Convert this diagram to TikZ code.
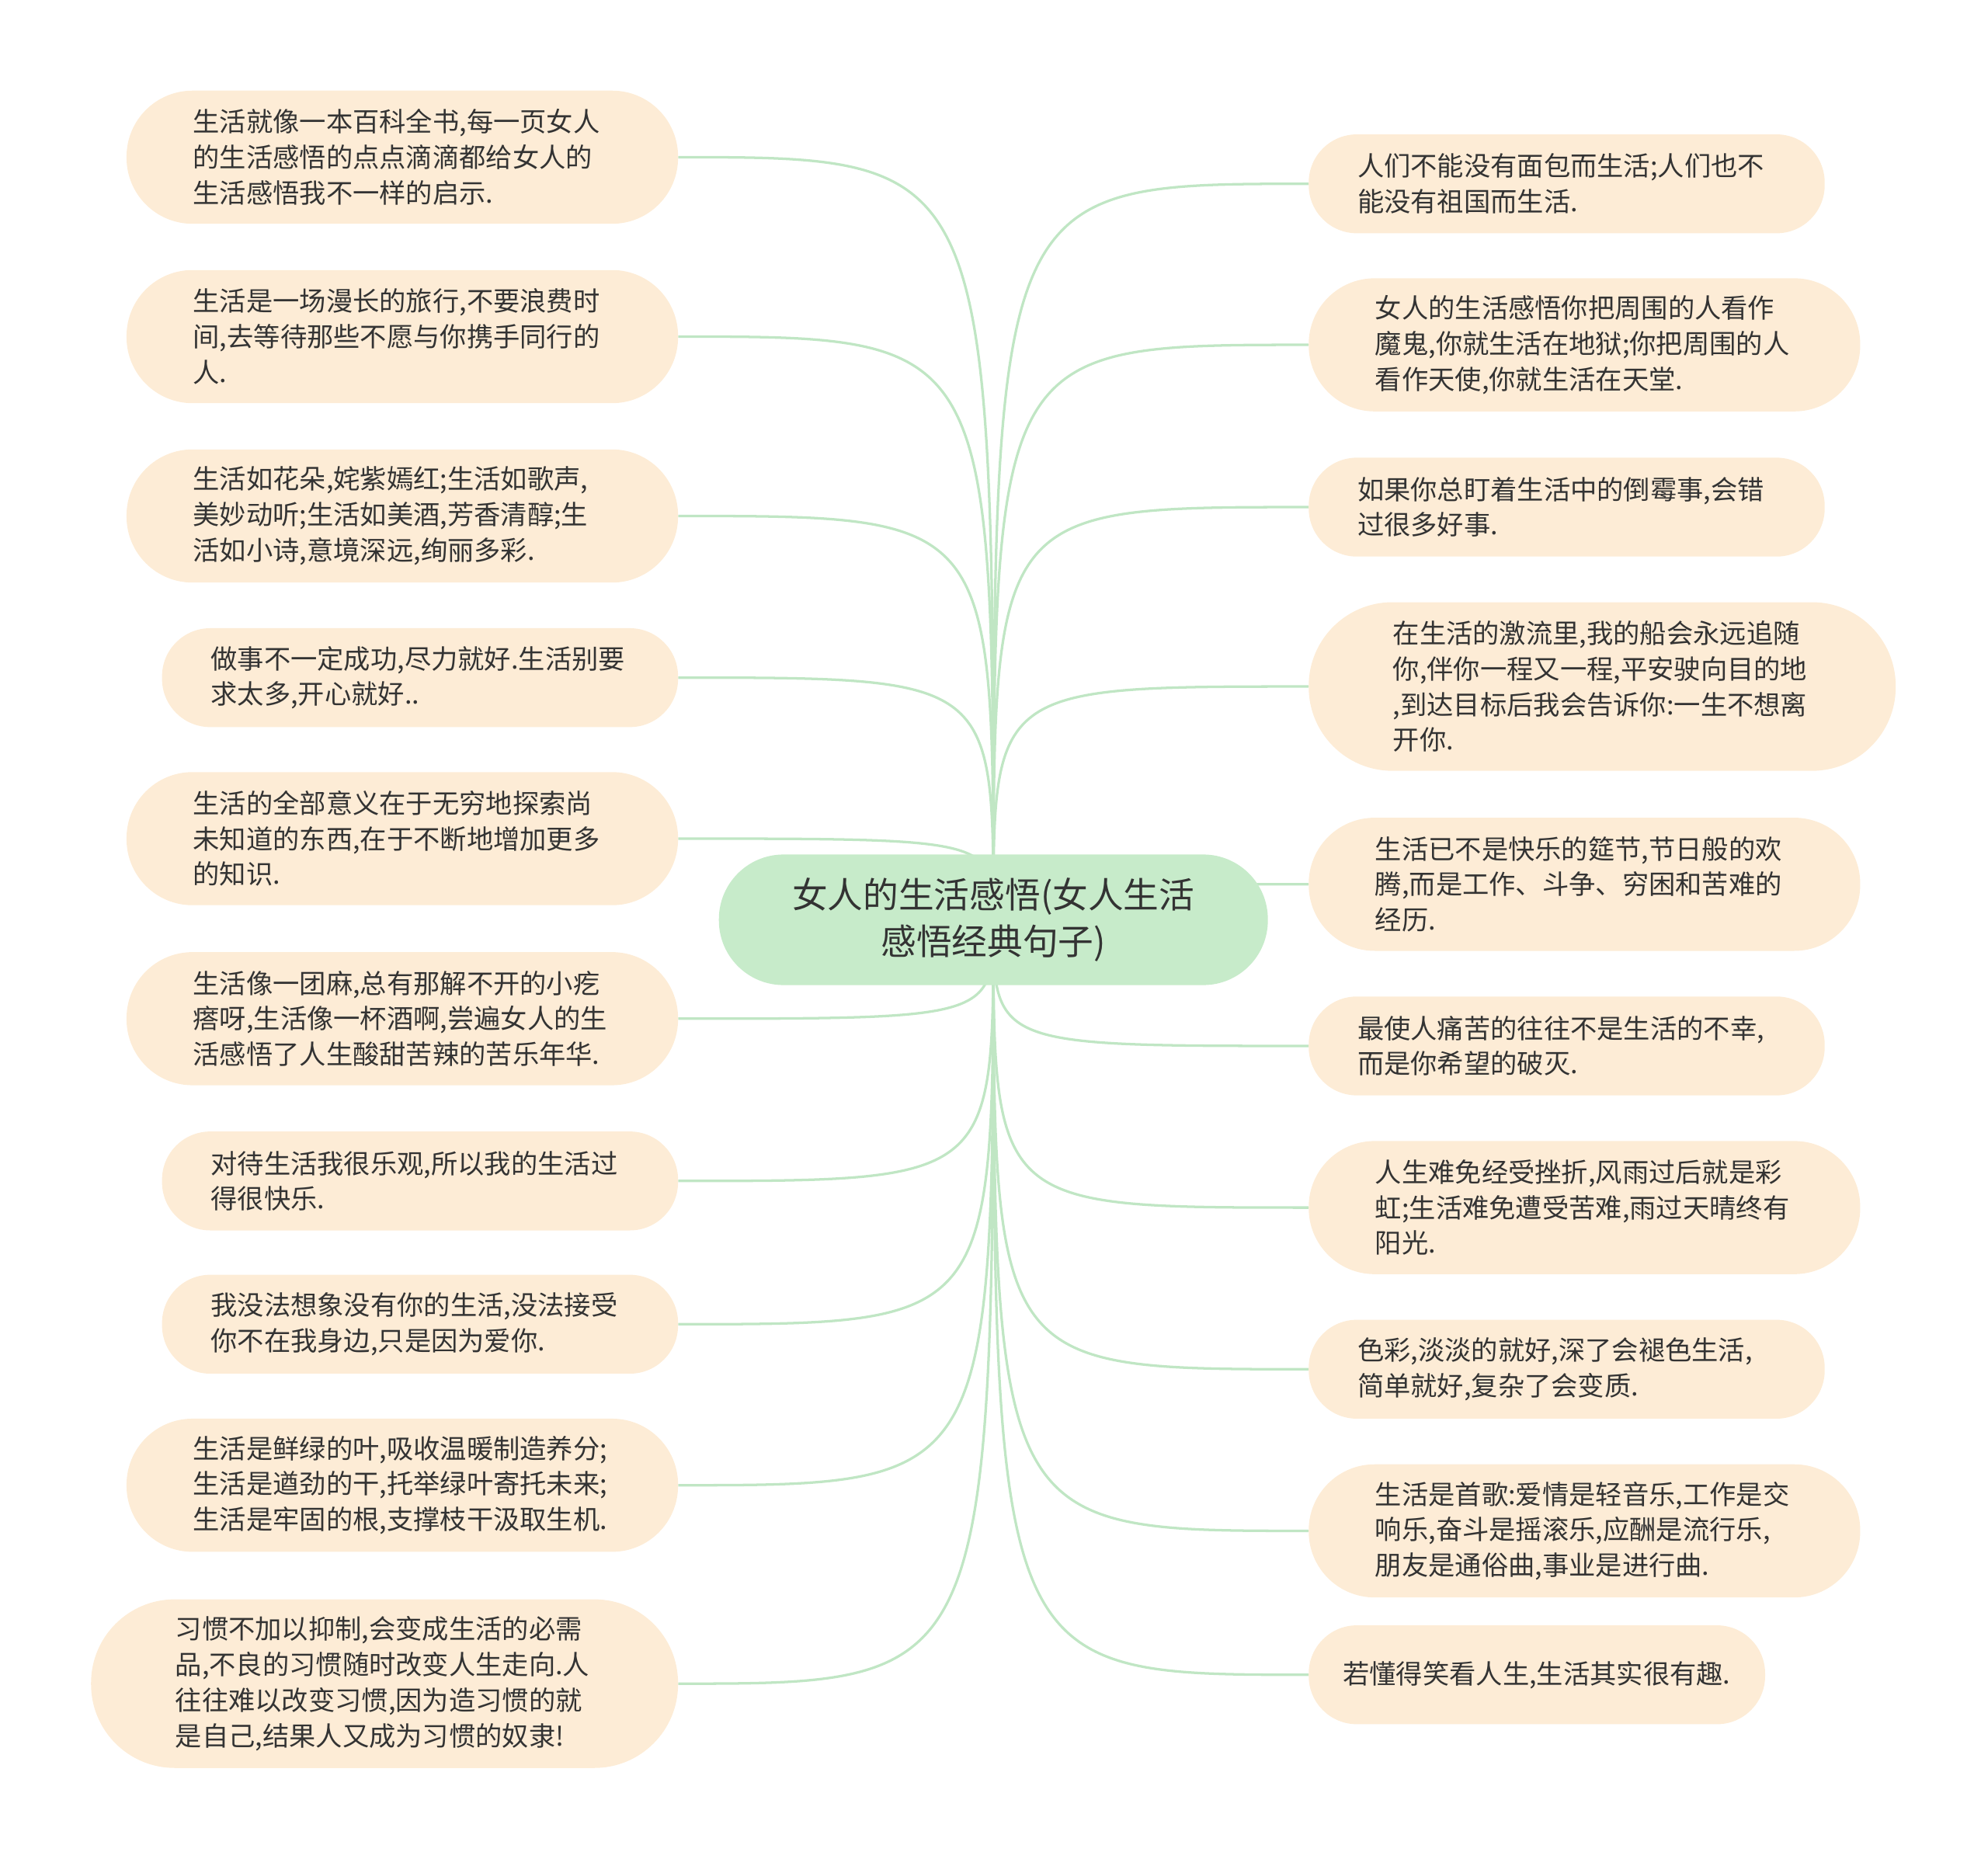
\documentclass[tikz,border=0pt]{standalone}
\usepackage{fontspec}
\newfontfamily\cjk{Noto Sans CJK SC}
\usepackage{tikz}
\usetikzlibrary{backgrounds}
\definecolor{rootgreen}{RGB}{199,235,202}
\definecolor{leafpeach}{RGB}{253,236,214}
\definecolor{linkgreen}{RGB}{192,230,196}
\definecolor{inkgray}{RGB}{51,51,51}

\begin{document}
\begin{tikzpicture}[x=1pt, y=-1pt,
  root/.style={rectangle, fill=rootgreen, text=inkgray, text width=330pt,
    align=center, inner xsep=51.5pt, inner ysep=0pt, minimum height=103pt,
    rounded corners=51pt, font=\cjk\fontsize{28}{37}\selectfont},
  leaf/.style={rectangle, fill=leafpeach, text=inkgray, text width=330pt,
    align=left, inner ysep=0pt, font=\cjk\fontsize{21}{28}\selectfont},
  leafone/.style={leaf, text width=306pt, minimum height=78pt, inner xsep=27pt, rounded corners=38pt},
  leaftwo/.style={leaf, minimum height=78pt, inner xsep=38.5pt, rounded corners=38pt},
  leafthree/.style={leaf, minimum height=105pt, inner xsep=52.5pt, rounded corners=52pt},
  leaffour/.style={leaf, minimum height=133pt, inner xsep=66.5pt, rounded corners=66pt},
  link/.style={linkgreen, line width=2pt}]
  \useasboundingbox (0,0) rectangle (1568,1466);
  % Central topic
  \node[root] (root) at (783.5,725.5) {女人的生活感悟(女人生活\\感悟经典句子)};
  % Left column
  \node[leafthree, anchor=east] (l1) at (535,124) {生活就像一本百科全书,每一页女人\\的生活感悟的点点滴滴都给女人的\\生活感悟我不一样的启示.};
  \node[leafthree, anchor=east] (l2) at (535,265.5) {生活是一场漫长的旅行,不要浪费时\\间,去等待那些不愿与你携手同行的\\人.};
  \node[leafthree, anchor=east] (l3) at (535,407) {生活如花朵,姹紫嫣红;生活如歌声,\\美妙动听;生活如美酒,芳香清醇;生\\活如小诗,意境深远,绚丽多彩.};
  \node[leaftwo, anchor=east] (l4) at (535,534.5) {做事不一定成功,尽力就好.生活别要\\求太多,开心就好..};
  \node[leafthree, anchor=east] (l5) at (535,661.5) {生活的全部意义在于无穷地探索尚\\未知道的东西,在于不断地增加更多\\的知识.};
  \node[leafthree, anchor=east] (l6) at (535,803.5) {生活像一团麻,总有那解不开的小疙\\瘩呀,生活像一杯酒啊,尝遍女人的生\\活感悟了人生酸甜苦辣的苦乐年华.};
  \node[leaftwo, anchor=east] (l7) at (535,931.5) {对待生活我很乐观,所以我的生活过\\得很快乐.};
  \node[leaftwo, anchor=east] (l8) at (535,1044.5) {我没法想象没有你的生活,没法接受\\你不在我身边,只是因为爱你.};
  \node[leafthree, anchor=east] (l9) at (535,1171.5) {生活是鲜绿的叶,吸收温暖制造养分;\\生活是遒劲的干,托举绿叶寄托未来;\\生活是牢固的根,支撑枝干汲取生机.};
  \node[leaffour, anchor=east] (l10) at (535,1328) {习惯不加以抑制,会变成生活的必需\\品,不良的习惯随时改变人生走向.人\\往往难以改变习惯,因为造习惯的就\\是自己,结果人又成为习惯的奴隶!};
  % Right column
  \node[leaftwo, anchor=west] (r1) at (1032,145) {人们不能没有面包而生活;人们也不\\能没有祖国而生活.};
  \node[leafthree, anchor=west] (r2) at (1032,272) {女人的生活感悟你把周围的人看作\\魔鬼,你就生活在地狱;你把周围的人\\看作天使,你就生活在天堂.};
  \node[leaftwo, anchor=west] (r3) at (1032,400) {如果你总盯着生活中的倒霉事,会错\\过很多好事.};
  \node[leaffour, anchor=west] (r4) at (1032,541.5) {在生活的激流里,我的船会永远追随\\你,伴你一程又一程,平安驶向目的地\\,到达目标后我会告诉你:一生不想离\\开你.};
  \node[leafthree, anchor=west] (r5) at (1032,697.5) {生活已不是快乐的筵节,节日般的欢\\腾,而是工作、斗争、穷困和苦难的\\经历.};
  \node[leaftwo, anchor=west] (r6) at (1032,825) {最使人痛苦的往往不是生活的不幸,\\而是你希望的破灭.};
  \node[leafthree, anchor=west] (r7) at (1032,952.5) {人生难免经受挫折,风雨过后就是彩\\虹;生活难免遭受苦难,雨过天晴终有\\阳光.};
  \node[leaftwo, anchor=west] (r8) at (1032,1080) {色彩,淡淡的就好,深了会褪色生活,\\简单就好,复杂了会变质.};
  \node[leafthree, anchor=west] (r9) at (1032,1207.5) {生活是首歌:爱情是轻音乐,工作是交\\响乐,奋斗是摇滚乐,应酬是流行乐,\\朋友是通俗曲,事业是进行曲.};
  \node[leafone, anchor=west] (r10) at (1032,1321) {若懂得笑看人生,生活其实很有趣.};
  % Branches behind the nodes
  \begin{scope}[on background layer]
    \foreach \i in {1,...,10} {
      \draw[link] (root.center) .. controls (root.center |- l\i.east) .. (l\i.east);
      \draw[link] (root.center) .. controls (root.center |- r\i.west) .. (r\i.west);
    }
  \end{scope}
\end{tikzpicture}
\end{document}
